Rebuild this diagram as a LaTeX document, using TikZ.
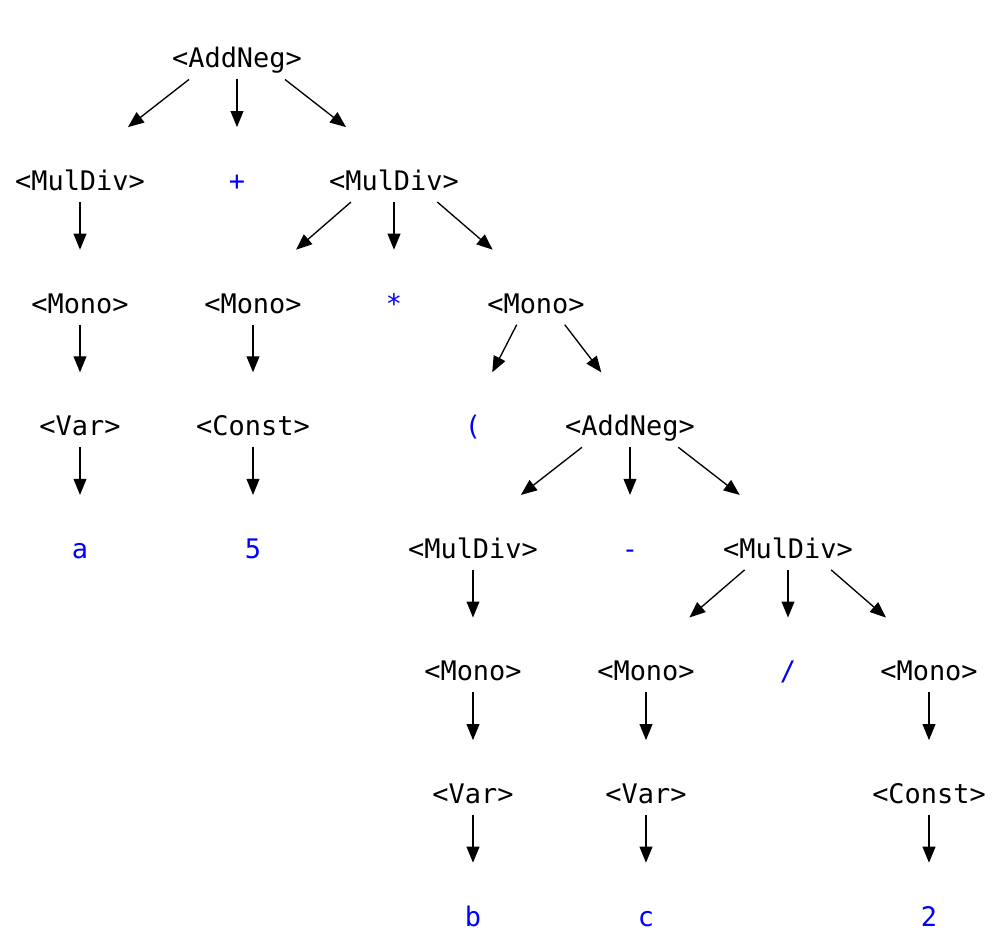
\documentclass[tikz,border=0pt]{standalone}
\usepackage{fontspec}
\setmainfont{DejaVu Sans Mono}
\usetikzlibrary{arrows.meta}
\tikzset{
  lbl/.style={anchor=base, inner sep=0pt, font=\fontsize{20.2}{24}\selectfont},
  nt/.style={lbl, text=black},
  term/.style={lbl, text=blue},
  hb/.style={draw=none, rectangle, inner sep=0pt, minimum width=90pt, minimum height=55.8pt},
  edge/.style={draw=black, line width=1pt, -{Triangle[length=12pt, width=9.6pt]}}
}
\begin{document}
\begin{tikzpicture}[x=0.75pt, y=-0.75pt]
\useasboundingbox (0,0) rectangle (1001,944);
% row 1
\node[nt] (t1) at (237,68) {<AddNeg>};
% row 2
\node[nt] (t2) at (80,190.6) {<MulDiv>};
\node[term] (t3) at (237,190.6) {+};
\node[nt] (t4) at (394,190.6) {<MulDiv>};
% row 3
\node[nt] (t5) at (80,313.2) {<Mono>};
\node[nt] (t6) at (253,313.2) {<Mono>};
\node[term] (t7) at (394,313.2) {*};
\node[nt] (t8) at (536,313.2) {<Mono>};
% row 4
\node[nt] (t9) at (80,435.8) {<Var>};
\node[nt] (t10) at (253,435.8) {<Const>};
\node[term] (t11) at (473,435.8) {(};
\node[nt] (t12) at (630,435.8) {<AddNeg>};
% row 5
\node[term] (t13) at (80,558.4) {a};
\node[term] (t14) at (253,558.4) {5};
\node[nt] (t15) at (473,558.4) {<MulDiv>};
\node[term] (t16) at (630,558.4) {-};
\node[nt] (t17) at (788,558.4) {<MulDiv>};
% row 6
\node[nt] (t18) at (473,681) {<Mono>};
\node[nt] (t19) at (646,681) {<Mono>};
\node[term] (t20) at (788,681) {/};
\node[nt] (t21) at (929,681) {<Mono>};
% row 7
\node[nt] (t22) at (473,803.6) {<Var>};
\node[nt] (t23) at (646,803.6) {<Var>};
\node[nt] (t24) at (929,803.6) {<Const>};
% row 8
\node[term] (t25) at (473,926.2) {b};
\node[term] (t26) at (646,926.2) {c};
\node[term] (t27) at (929,926.2) {2};

% invisible node bounds
\foreach \n/\x/\y in {1/237/68, 2/80/190.6, 3/237/190.6, 4/394/190.6,
  5/80/313.2, 6/253/313.2, 7/394/313.2, 8/536/313.2,
  9/80/435.8, 10/253/435.8, 11/473/435.8, 12/630/435.8,
  13/80/558.4, 14/253/558.4, 15/473/558.4, 16/630/558.4, 17/788/558.4,
  18/473/681, 19/646/681, 20/788/681, 21/929/681,
  22/473/803.6, 23/646/803.6, 24/929/803.6,
  25/473/926.2, 26/646/926.2, 27/929/926.2}
  \node[hb] (b\n) at (\x,\y-26) {};

% edges
\foreach \a/\b in {1/2, 1/3, 1/4, 2/5, 4/6, 4/7, 4/8, 5/9, 6/10, 8/11, 8/12,
  9/13, 10/14, 12/15, 12/16, 12/17, 15/18, 17/19, 17/20, 17/21,
  18/22, 19/23, 21/24, 22/25, 23/26, 24/27}
  \draw[edge] (b\a) -- (b\b);
\end{tikzpicture}
\end{document}
